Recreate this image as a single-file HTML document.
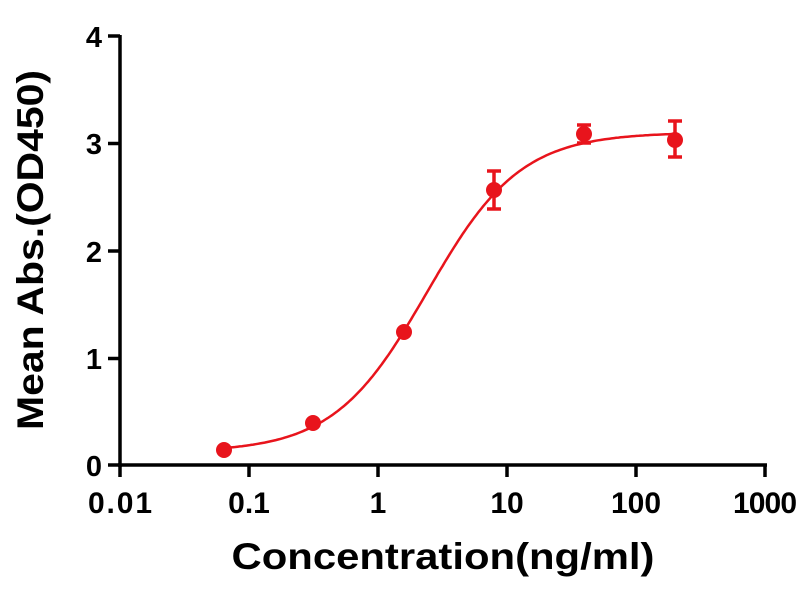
<!DOCTYPE html>
<html><head><meta charset="utf-8"><style>
body{margin:0;background:#fff;}
svg text{font-family:"Liberation Sans",Arial,sans-serif;font-weight:bold;fill:#000;}
</style></head><body>
<svg id="s" width="800" height="600" viewBox="0 0 800 600">
<g stroke="#000" stroke-width="3.5" fill="none">
<line x1="120" y1="35" x2="120" y2="467"/>
<line x1="118" y1="465" x2="767" y2="465"/>
<line x1="108" y1="36" x2="120" y2="36"/>
<line x1="108" y1="143.5" x2="120" y2="143.5"/>
<line x1="108" y1="251" x2="120" y2="251"/>
<line x1="108" y1="358.5" x2="120" y2="358.5"/>
<line x1="108" y1="465" x2="120" y2="465"/>
<line x1="120" y1="465" x2="120" y2="477"/>
<line x1="249" y1="465" x2="249" y2="477"/>
<line x1="378" y1="465" x2="378" y2="477"/>
<line x1="507" y1="465" x2="507" y2="477"/>
<line x1="636" y1="465" x2="636" y2="477"/>
<line x1="765" y1="465" x2="765" y2="477"/>
</g>
<g font-size="29" text-anchor="end">
<text x="102" y="47">4</text><text x="102" y="154">3</text><text x="102" y="262">2</text><text x="102" y="369">1</text><text x="102" y="476">0</text>
</g>
<g font-size="30" text-anchor="middle">
<text x="120" y="513" textLength="64">0.01</text><text x="249" y="513">0.1</text><text x="378" y="513">1</text><text x="507" y="513">10</text><text x="636" y="513">100</text><text x="765" y="513" textLength="64">1000</text>
</g>
<text x="443" y="569" font-size="37" text-anchor="middle" textLength="423" lengthAdjust="spacingAndGlyphs">Concentration(ng/ml)</text>
<text transform="translate(43,250) rotate(-90)" font-size="37" text-anchor="middle" textLength="360" lengthAdjust="spacingAndGlyphs">Mean Abs.(OD450)</text>
<path id="c" fill="none" stroke="#e8141c" stroke-width="2.5"/>
<g stroke="#e8141c" stroke-width="3.5" fill="#e8141c">
<line x1="494" y1="171" x2="494" y2="209"/><line x1="487" y1="171" x2="501" y2="171"/><line x1="487" y1="209" x2="501" y2="209"/>
<line x1="584" y1="125" x2="584" y2="143"/><line x1="577" y1="125" x2="591" y2="125"/><line x1="577" y1="143" x2="591" y2="143"/>
<line x1="675" y1="121" x2="675" y2="157"/><line x1="668" y1="121" x2="682" y2="121"/><line x1="668" y1="157" x2="682" y2="157"/>
<g stroke="none">
<circle cx="224" cy="450" r="8"/><circle cx="313" cy="423" r="8"/><circle cx="404" cy="332" r="8"/><circle cx="494" cy="190" r="8"/><circle cx="584" cy="134" r="8"/><circle cx="675" cy="140" r="8"/>
</g></g>
<script>
var d="";for(var i=0;i<=200;i++){var lx=Math.log10(0.064)+i*(Math.log10(200)-Math.log10(0.064))/200;
var x=Math.pow(10,lx);var y=0.12+(3.1-0.12)/(1+Math.pow(2.4/x,1.2));
var px=120+(lx+2)*129, py=465-y*107.3;d+=(i?"L":"M")+px.toFixed(1)+" "+py.toFixed(1);}
document.getElementById("c").setAttribute("d",d);
</script>
</svg>
</body></html>
